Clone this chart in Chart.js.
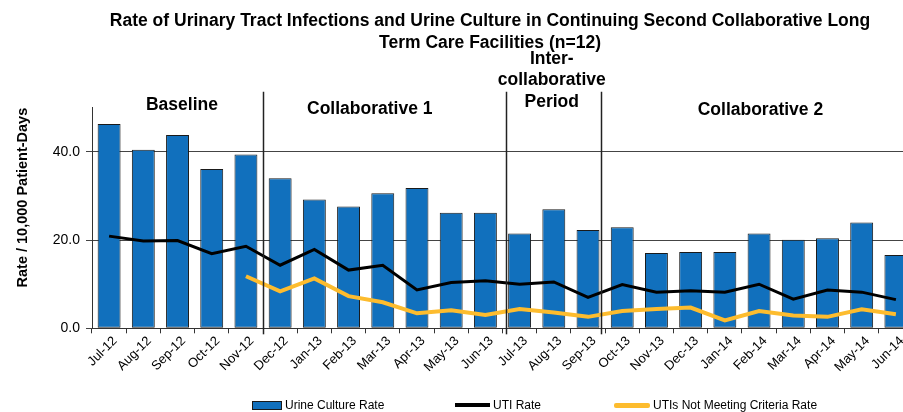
<!DOCTYPE html>
<html>
<head>
<meta charset="utf-8">
<script src="https://cdn.jsdelivr.net/npm/chart.js@4/dist/chart.umd.min.js"></script>
<style>
  html, body { margin: 0; padding: 0; background: #fff; overflow: hidden; }
  #wrap { position: relative; width: 903px; height: 412px; overflow: hidden; }
  #box { position: absolute; left: 0; top: 0; width: 980px; height: 412px; }
  .leg { position: absolute; top: 398px; font: 12px 'Liberation Sans Narrow', 'Liberation Sans', Arial, sans-serif; color: #000; display: flex; align-items: center; white-space: nowrap; }
  .leg .sw { display: inline-block; margin-right: 3px; }
</style>
</head>
<body>
<div id="wrap">
  <div id="box"><canvas id="utiChart"></canvas></div>
  <div class="leg" style="left:252px"><span class="sw" style="width:28px;height:7px;background:#1170bd;border:1px solid #1a1a1a"></span>Urine Culture Rate</div>
  <div class="leg" style="left:455px"><span class="sw" style="width:35px;height:4px;background:#000"></span>UTI Rate</div>
  <div class="leg" style="left:614px"><span class="sw" style="width:36px;height:5px;background:#fdbc2e;border-radius:2px"></span>UTIs Not Meeting Criteria Rate</div>
</div>
<script>
// months on the x axis
const months = ['Jul-12', 'Aug-12', 'Sep-12', 'Oct-12', 'Nov-12', 'Dec-12',
    'Jan-13', 'Feb-13', 'Mar-13', 'Apr-13', 'May-13', 'Jun-13',
    'Jul-13', 'Aug-13', 'Sep-13', 'Oct-13', 'Nov-13', 'Dec-13',
    'Jan-14', 'Feb-14', 'Mar-14', 'Apr-14', 'May-14', 'Jun-14'];

// rates per 10,000 patient-days
const urineCultureRate = [46.3, 40.5, 43.8, 36.1, 39.4, 34.0,
    29.2, 27.6, 30.6, 31.8, 26.2, 26.2,
    21.5, 27.0, 22.3, 22.9, 17.1, 17.3,
    17.3, 21.5, 20.1, 20.4, 24.0, 16.6];

const utiRate = [20.9, 19.8, 19.9, 16.9, 18.6, 14.3,
    17.9, 13.2, 14.3, 8.7, 10.4, 10.8,
    10.0, 10.5, 7.0, 9.9, 8.2, 8.5,
    8.2, 10.0, 6.6, 8.7, 8.2, 6.5];

const notMeetingRate = [null, null, null, null, 11.8, 8.4,
    11.3, 7.3, 5.9, 3.4, 4.1, 3.0,
    4.4, 3.6, 2.6, 3.9, 4.4, 4.7,
    1.8, 3.9, 2.9, 2.6, 4.3, 3.2];

const yTicks = [0, 20, 40];

// study periods: label lines and where the label sits (category units)
const periodLabels = [['Baseline'], ['Collaborative 1'], ['Inter-', 'collaborative', 'Period'], ['Collaborative 2']];
const periodCenters = [2.13, 7.62, 12.94, 19.04];
const periodBreaks = [4.51, 11.61, 14.39];

const font = "'Liberation Sans', Arial, sans-serif";

function catPixel(scale, v) {
    const step = scale.getPixelForValue(1) - scale.getPixelForValue(0);
    return scale.getPixelForValue(0) + v * step;
}

const periodPlugin = {
    id: 'periods',
    afterDatasetsDraw(chart) {
        const { ctx, chartArea, scales } = chart;
        const x = scales.x;
        ctx.save();
        ctx.strokeStyle = '#222';
        ctx.lineWidth = 1.5;
        periodBreaks.forEach(b => {
            const px = Math.round(catPixel(x, b)) + 0.5;
            ctx.beginPath();
            ctx.moveTo(px, chartArea.top - 16);
            ctx.lineTo(px, chartArea.bottom + 6);
            ctx.stroke();
        });
        ctx.fillStyle = '#000';
        ctx.font = 'bold 17.5px ' + font;
        ctx.textAlign = 'center';
        ctx.textBaseline = 'middle';
        const offs = [-3, 1, -6, 2];
        periodLabels.forEach((lines, i) => {
            const px = catPixel(x, periodCenters[i]);
            const n = lines.length;
            lines.forEach((t, j) => {
                ctx.fillText(t, px, chartArea.top + offs[i] - (n - 1 - j) * 21.5);
            });
        });
        ctx.restore();
    }
};

const ctx = document.getElementById('utiChart').getContext('2d');
const utiChart = new Chart(ctx, {
    data: {
        labels: months,
        datasets: [
            {
                type: 'line',
                label: 'UTI Rate',
                data: utiRate,
                borderColor: '#000',
                borderWidth: 3,
                pointRadius: 0,
                tension: 0,
                order: 1
            },
            {
                type: 'line',
                label: 'UTIs Not Meeting Criteria Rate',
                data: notMeetingRate,
                borderColor: '#fdbc2e',
                borderWidth: 4,
                pointRadius: 0,
                tension: 0,
                order: 1
            },
            {
                type: 'bar',
                label: 'Urine Culture Rate',
                data: urineCultureRate,
                backgroundColor: '#1170bd',
                borderColor: '#1a1a1a',
                borderWidth: 1,
                borderSkipped: false,
                categoryPercentage: 1,
                barPercentage: 0.67,
                order: 2
            }
        ]
    },
    options: {
        responsive: true,
        maintainAspectRatio: false,
        animation: false,
        layout: { padding: { bottom: 37 } },
        plugins: {
            legend: { display: false },
            tooltip: { enabled: false },
            title: {
                display: true,
                text: ['Rate of Urinary Tract Infections and Urine Culture in Continuing Second Collaborative Long',
                    'Term Care Facilities (n=12)'],
                color: '#000',
                font: { family: font, size: 17.5, weight: 'bold', lineHeight: 1.25 },
                padding: { top: 10, bottom: 54 }
            }
        },
        scales: {
            x: {
                offset: true,
                grid: { offset: true, drawOnChartArea: false, color: '#333', tickLength: 5 },
                border: { color: '#333' },
                ticks: {
                    color: '#000',
                    font: { family: font, size: 13 },
                    maxRotation: 45,
                    minRotation: 45,
                    autoSkip: false,
                    padding: 0,
                    labelOffset: 6
                }
            },
            y: {
                min: 0,
                max: 50,
                afterBuildTicks: s => { s.ticks = yTicks.map(v => ({ value: v })); },
                afterFit: s => { s.width = 92; },
                grid: { color: '#444', tickLength: 6 },
                border: { color: '#333' },
                ticks: {
                    color: '#000',
                    font: { family: font, size: 14 },
                    padding: 6,
                    callback: v => v.toFixed(1)
                },
                title: {
                    display: true,
                    text: 'Rate / 10,000 Patient-Days',
                    align: 'end',
                    color: '#000',
                    font: { family: font, size: 14.5, weight: 'bold' },
                    padding: { top: 14, bottom: 0 }
                }
            },
            yr: {
                position: 'right',
                min: 0,
                max: 50,
                afterFit: s => { s.width = 67; },
                grid: { display: false },
                border: { display: false },
                ticks: { display: false }
            }
        }
    },
    plugins: [periodPlugin]
});
</script>
</body>
</html>
